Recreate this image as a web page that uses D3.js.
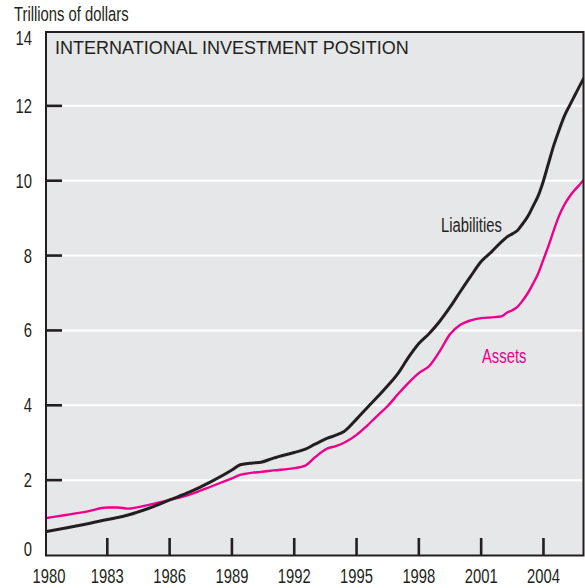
<!DOCTYPE html>
<html>
<head>
<meta charset="utf-8">
<script src="https://cdn.jsdelivr.net/npm/d3@7"></script>
<style>
  html, body { margin: 0; padding: 0; background: #ffffff; }
  svg { display: block; }
  .cond { font-family: "Liberation Sans", Arial, Helvetica, sans-serif; }
</style>
</head>
<body>
<svg id="chart" width="585" height="588"></svg>
<script>
// ---- data (trillions of dollars) ----
const years = [1980, 1981, 1982, 1983, 1983.5, 1984, 1985, 1986, 1987, 1988, 1989, 1989.4, 1990, 1990.4,
  1991, 1992, 1992.5, 1993, 1993.6, 1994, 1994.4, 1995, 1995.5, 1996, 1996.5, 1997, 1997.5, 1998, 1998.5,
  1999, 1999.5, 2000, 2000.5, 2001, 2001.5, 2002, 2002.25, 2002.5, 2002.75, 2003, 2003.25, 2003.5, 2003.75,
  2004, 2004.25, 2004.5, 2004.75, 2005, 2005.25, 2005.5, 2005.75, 2006];
const liabilities = [0.62, 0.72, 0.83, 0.95, 1.00, 1.07, 1.25, 1.47, 1.69, 1.96, 2.27, 2.41, 2.46, 2.48,
  2.59, 2.74, 2.82, 2.96, 3.12, 3.20, 3.30, 3.63, 3.93, 4.22, 4.52, 4.85, 5.28, 5.65, 5.92,
  6.24, 6.62, 7.04, 7.45, 7.84, 8.10, 8.38, 8.50, 8.58, 8.67, 8.85, 9.05, 9.32, 9.60,
  10.00, 10.48, 10.95, 11.35, 11.72, 12.00, 12.27, 12.54, 12.80];
const assets = [0.98, 1.07, 1.16, 1.27, 1.27, 1.24, 1.34, 1.47, 1.62, 1.83, 2.05, 2.14, 2.20, 2.22,
  2.26, 2.32, 2.38, 2.61, 2.85, 2.91, 3.00, 3.21, 3.45, 3.72, 3.98, 4.30, 4.60, 4.86, 5.05,
  5.44, 5.90, 6.15, 6.27, 6.33, 6.35, 6.38, 6.48, 6.54, 6.63, 6.80, 7.00, 7.25, 7.53,
  7.90, 8.27, 8.68, 9.06, 9.35, 9.57, 9.75, 9.90, 10.07];
const xTicks = [1980, 1983, 1986, 1989, 1992, 1995, 1998, 2001, 2004];
const yTicks = [0, 2, 4, 6, 8, 10, 12, 14];
const title = "INTERNATIONAL INVESTMENT POSITION";
const yUnit = "Trillions of dollars";
const seriesLabels = ["Liabilities", "Assets"];

// ---- layout ----
const L = 45, R = 584, T = 31, B = 555;
const INK = "#231f20", PINK = "#ec008c";
const svg = d3.select("#chart");
const x = d3.scaleLinear().domain([1980, 2006]).range([L, R + 1]);
const y = d3.scaleLinear().domain([0, 14]).range([B, T]);

svg.append("defs").append("clipPath").attr("id", "clip")
  .append("rect").attr("x", L).attr("y", T).attr("width", R - L).attr("height", B - T);

// plot background
svg.append("rect").attr("x", L).attr("y", T).attr("width", R - L).attr("height", B - T)
  .attr("fill", "#e6e7e8");

// gridlines (white)
svg.append("g").selectAll("line").data(yTicks.filter(d => d > 0 && d < 14)).join("line")
  .attr("x1", L + 17).attr("x2", R).attr("y1", d => y(d)).attr("y2", d => y(d))
  .attr("stroke", "#ffffff").attr("stroke-width", 2);

// lines
const pts = vals => years.map((yr, i) => [yr, vals[i]]);
const line = d3.line().x(d => x(d[0])).y(d => y(d[1])).curve(d3.curveMonotoneX);
const g = svg.append("g").attr("clip-path", "url(#clip)");
g.append("path").datum(pts(assets)).attr("d", line)
  .attr("fill", "none").attr("stroke", PINK).attr("stroke-width", 2.4).attr("stroke-linejoin", "round");
g.append("path").datum(pts(liabilities)).attr("d", line)
  .attr("fill", "none").attr("stroke", INK).attr("stroke-width", 3).attr("stroke-linejoin", "round");

// tick marks (inside)
svg.append("g").selectAll("line").data(yTicks.filter(d => d > 0 && d < 14)).join("line")
  .attr("x1", L).attr("x2", L + 17).attr("y1", d => y(d)).attr("y2", d => y(d))
  .attr("stroke", INK).attr("stroke-width", 2.6);
svg.append("g").selectAll("line").data(xTicks.filter(d => d > 1980)).join("line")
  .attr("x1", d => x(d)).attr("x2", d => x(d)).attr("y1", B).attr("y2", B - 17)
  .attr("stroke", INK).attr("stroke-width", 2.6);

// frame
svg.append("rect").attr("x", L + 1).attr("y", T + 1).attr("width", R - L - 1.5).attr("height", B - T - 0.5)
  .attr("fill", "none").attr("stroke", INK).attr("stroke-width", 2);

// condensed text helper (horizontally compressed sans)
function condText(parent, px, py, str, anchor, fill) {
  parent.append("g").attr("transform", `translate(${px},${py})`)
    .append("text").attr("class", "cond")
    .attr("transform", "scale(0.76,1)")
    .attr("text-anchor", anchor).attr("font-size", 19.5).attr("fill", fill)
    .text(str);
}

// y tick labels
const yl = svg.append("g");
yTicks.forEach(d => {
  const py = d === 14 ? y(d) + 14 : (d === 0 ? y(d) + 1 : y(d) + 7);
  condText(yl, 32, py, d, "end", INK);
});

// x tick labels
const xl = svg.append("g");
xTicks.forEach(d => condText(xl, d === 1980 ? x(d) + 4 : x(d), 583, d, "middle", INK));

// unit label
condText(svg, 14, 21, yUnit, "start", INK);

// title
svg.append("text").attr("x", 55).attr("y", 54)
  .attr("font-family", "'Liberation Sans', Arial, Helvetica, sans-serif")
  .attr("font-size", 18).attr("fill", INK).text(title);

// series labels
condText(svg, 441, 232, seriesLabels[0], "start", INK);
condText(svg, 482, 363, seriesLabels[1], "start", PINK);
</script>
</body>
</html>
